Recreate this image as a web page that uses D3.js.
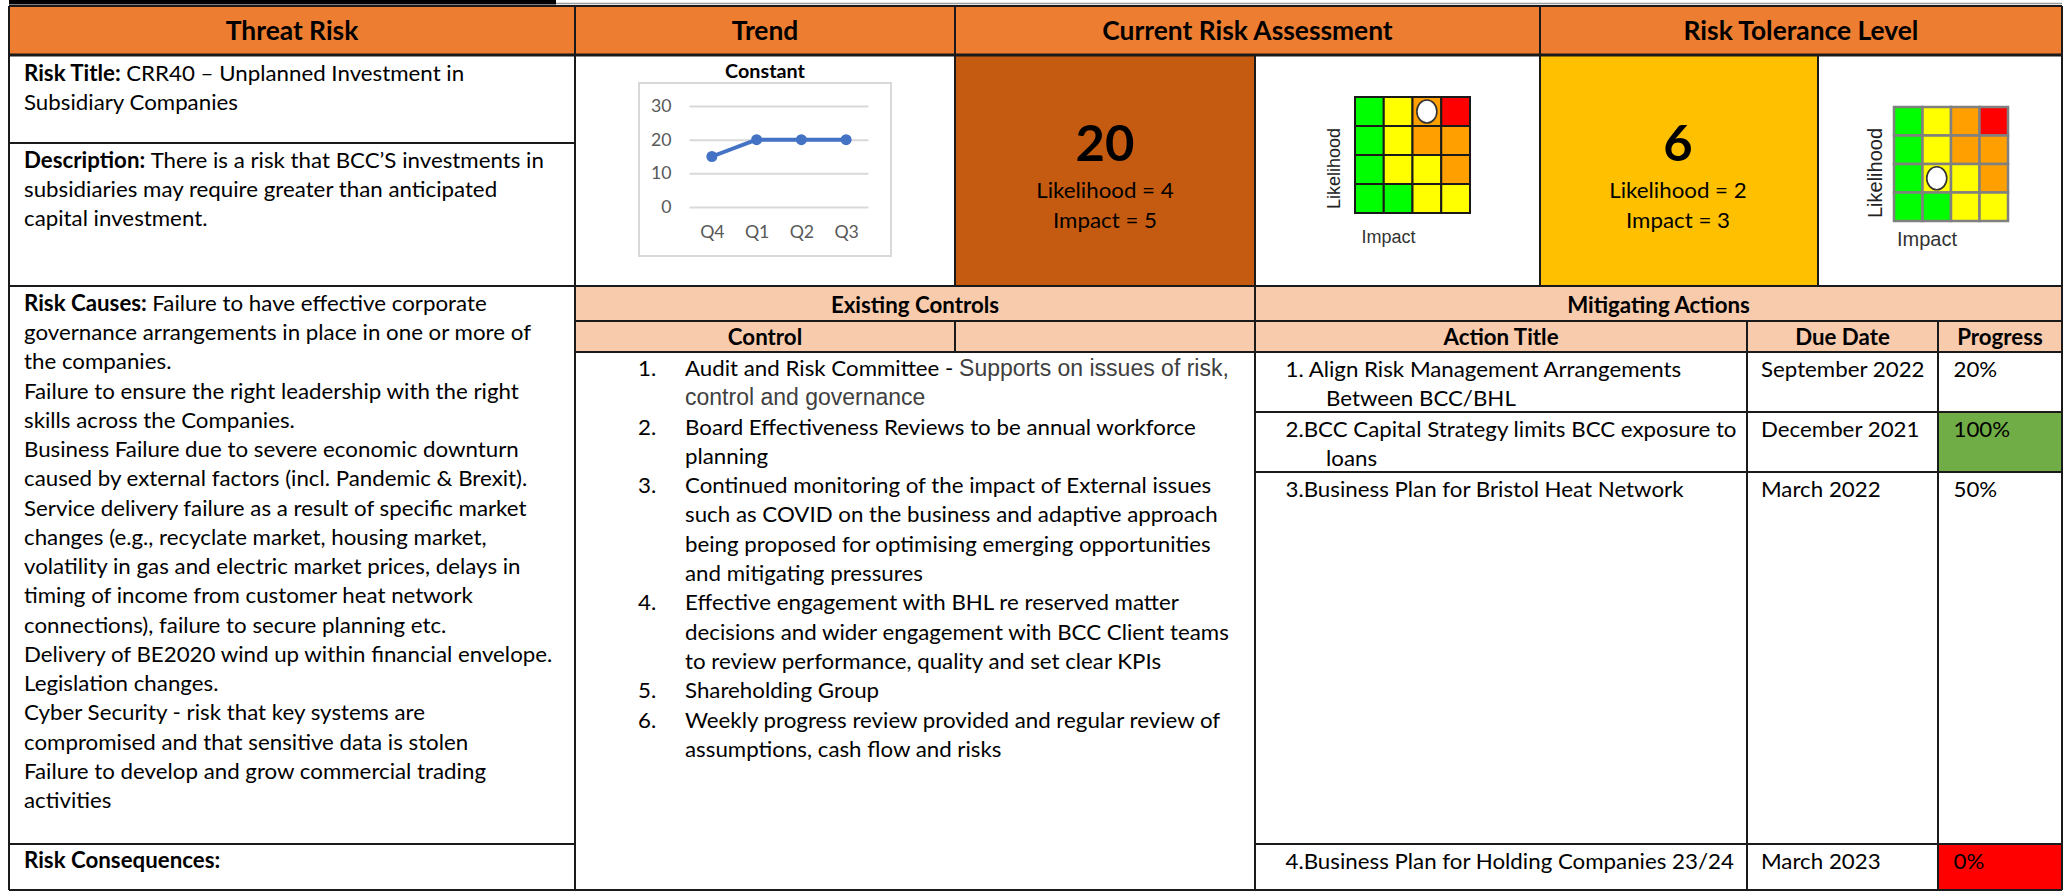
<!DOCTYPE html>
<html><head><meta charset="utf-8">
<script src="https://cdn.jsdelivr.net/npm/d3@7"></script>
<style>body{margin:0;background:#fff;}svg{display:block;}text{white-space:pre;}</style>
</head><body>
<svg id="c" width="2069" height="891"></svg>
<script>
// ---------------- DATA ----------------
const headerTitles = ["Threat Risk", "Trend", "Current Risk Assessment", "Risk Tolerance Level"];
const trendTitle = "Constant";
const trendQuarters = ["Q4", "Q1", "Q2", "Q3"];
const trendValues = [15, 20, 20, 20];
const trendTicks = [0, 10, 20, 30];
const riskTitle = ["CRR40 – Unplanned Investment in", "Subsidiary Companies"];
const riskDescription = ["There is a risk that BCC’S investments in", "subsidiaries may require greater than anticipated", "capital investment."];
const riskCauses = [
  "Failure to have effective corporate",
  "governance arrangements in place in one or more of",
  "the companies.",
  "Failure to ensure the right leadership with the right",
  "skills across the Companies.",
  "Business Failure due to severe economic downturn",
  "caused by external factors (incl. Pandemic & Brexit).",
  "Service delivery failure as a result of specific market",
  "changes (e.g., recyclate market, housing market,",
  "volatility in gas and electric market prices, delays in",
  "timing of income from customer heat network",
  "connections), failure to secure planning etc.",
  "Delivery of BE2020 wind up within financial envelope.",
  "Legislation changes.",
  "Cyber Security - risk that key systems are",
  "compromised and that sensitive data is stolen",
  "Failure to develop and grow commercial trading",
  "activities"
];
const controls = [
  ["Audit and Risk Committee - ", ""],
  ["Board Effectiveness Reviews to be annual workforce", "planning"],
  ["Continued monitoring of the impact of External issues", "such as COVID on the business and adaptive approach", "being proposed for optimising emerging opportunities", "and mitigating pressures"],
  ["Effective engagement with BHL re reserved matter", "decisions and wider engagement with BCC Client teams", "to review performance, quality and set clear KPIs"],
  ["Shareholding Group"],
  ["Weekly progress review provided and regular review of", "assumptions, cash flow and risks"]
];
const control1Note = ["Supports on issues of risk,", "control and governance"];
const actionTitles = [
  ["1. Align Risk Management Arrangements", "Between BCC/BHL"],
  ["2.BCC Capital Strategy limits BCC exposure to", "loans"],
  ["3.Business Plan for Bristol Heat Network"],
  ["4.Business Plan for Holding Companies 23/24"]
];
const actionDue = ["September 2022", "December 2021", "March 2022", "March 2023"];
const actionProgress = [20, 100, 50, 0];
const currentScore = 20, currentLikelihood = 4, currentImpact = 5;
const toleranceScore = 6, toleranceLikelihood = 2, toleranceImpact = 3;
// heat matrix levels (rows top->bottom, columns left->right)
const heatLevels = [[1, 2, 3, 4], [1, 2, 3, 3], [1, 2, 2, 3], [1, 1, 2, 2]];
const currentMarker = [0, 2];   // [row, col]
const toleranceMarker = [2, 1];

// ---------------- LAYOUT ----------------
const svg = d3.select("#c");
const X = {L: 9, c1: 575, c2: 955, c3: 1255, c4: 1540, c5: 1818, R: 2062, d1: 1747, d2: 1938};
const Y = {T: 6, hb: 55, td: 143, r1: 286, h2: 321, h3: 352, a1: 412, a2: 472, a3: 844, B: 890};
const CAL = "Lato, Carlito, sans-serif";
const ARIAL = "'Liberation Sans', Arial, sans-serif";
const BODY = 22, HEAD = 26;

// calibrate horizontal compression so Lato matches the narrower original face
const probe = svg.append("text").attr("font-family", CAL).attr("font-size", BODY);
probe.append("tspan").attr("font-weight", "bold").text("Risk Causes: ");
probe.append("tspan").text(riskCauses[0]);
const k = 463 / probe.node().getComputedTextLength();
probe.remove();

function ctext(parent, x, cy, size, anchor, segs, fill) {
  const t = parent.append("text")
    .attr("transform", `translate(${x},${cy + 0.36 * size}) scale(${k},1)`)
    .attr("font-family", CAL).attr("font-size", size)
    .attr("text-anchor", anchor).attr("fill", fill || "#000");
  segs.forEach(s => t.append("tspan").attr("font-weight", s.b ? "bold" : "normal").text(s.t));
  return t;
}

// top remnant line
svg.append("rect").attr("x", X.L).attr("y", 0).attr("width", 547).attr("height", 4.5).attr("fill", "#000");
svg.append("line").attr("x1", 556).attr("x2", X.R).attr("y1", 3.5).attr("y2", 3.5).attr("stroke", "#9a9a9a").attr("stroke-width", 1.5);

// fills
const fills = svg.append("g");
fills.append("rect").attr("x", X.L).attr("y", Y.T).attr("width", X.R - X.L).attr("height", Y.hb - Y.T).attr("fill", "#ED7D31");
fills.append("rect").attr("x", X.c2).attr("y", Y.hb).attr("width", X.c3 - X.c2).attr("height", Y.r1 - Y.hb).attr("fill", "#C55A11");
fills.append("rect").attr("x", X.c4).attr("y", Y.hb).attr("width", X.c5 - X.c4).attr("height", Y.r1 - Y.hb).attr("fill", "#FFC000");
fills.append("rect").attr("x", X.c1).attr("y", Y.r1).attr("width", X.R - X.c1).attr("height", Y.h3 - Y.r1).attr("fill", "#F8CBAD");

// progress cells
const rowEdges = [Y.h3, Y.a1, Y.a2, Y.a3, Y.B];
const progColor = v => v >= 100 ? "#70AD47" : (v <= 0 ? "#FF0000" : "none");
fills.selectAll("rect.prog").data(actionProgress).join("rect").attr("class", "prog")
  .attr("x", X.d2).attr("width", X.R - X.d2)
  .attr("y", (d, i) => rowEdges[i]).attr("height", (d, i) => rowEdges[i + 1] - rowEdges[i])
  .attr("fill", progColor);

// grid lines
const lines = svg.append("g").attr("stroke", "#1a1a1a").attr("stroke-width", 2);
const H = [[Y.T, X.L, X.R], [Y.td, X.L, X.c1], [Y.r1, X.L, X.R], [Y.h2, X.c1, X.R], [Y.h3, X.c1, X.R],
  [Y.a1, X.c3, X.R], [Y.a2, X.c3, X.R], [Y.a3, X.L, X.c1], [Y.a3, X.c3, X.R], [Y.B, X.L, X.R]];
H.forEach(h => lines.append("line").attr("x1", h[1]).attr("x2", h[2]).attr("y1", h[0]).attr("y2", h[0]));
lines.append("line").attr("x1", X.L).attr("x2", X.R).attr("y1", Y.hb).attr("y2", Y.hb).attr("stroke-width", 3);
const V = [[X.L, Y.T, Y.B], [X.R, Y.T, Y.B], [X.c1, Y.T, Y.B], [X.c2, Y.T, Y.r1], [X.c2, Y.h2, Y.h3],
  [X.c3, Y.hb, Y.B], [X.c4, Y.T, Y.r1], [X.c5, Y.hb, Y.r1], [X.d1, Y.h2, Y.B], [X.d2, Y.h2, Y.B]];
V.forEach(v => lines.append("line").attr("x1", v[0]).attr("x2", v[0]).attr("y1", v[1]).attr("y2", v[2]));

// header titles
const hx = [(X.L + X.c1) / 2, (X.c1 + X.c2) / 2, (X.c2 + X.c4) / 2, (X.c4 + X.R) / 2];
headerTitles.forEach((t, i) => ctext(svg, hx[i], 31, HEAD, "middle", [{t, b: true}]));

// risk title and description
const LH = 29.25;
riskTitle.forEach((t, i) => ctext(svg, 24, 72.7 + i * LH, BODY, "start", i === 0 ? [{t: "Risk Title: ", b: true}, {t}] : [{t}]));
riskDescription.forEach((t, i) => ctext(svg, 24, 160 + i * LH, BODY, "start", i === 0 ? [{t: "Description: ", b: true}, {t}] : [{t}]));
riskCauses.forEach((t, i) => ctext(svg, 24, 303 + i * LH, BODY, "start", i === 0 ? [{t: "Risk Causes: ", b: true}, {t}] : [{t}]));
ctext(svg, 24, 860, BODY, "start", [{t: "Risk Consequences:", b: true}]);

// ---------------- TREND CHART ----------------
const tg = svg.append("g");
tg.append("rect").attr("x", 639).attr("y", 83).attr("width", 252).attr("height", 173)
  .attr("fill", "#fff").attr("stroke", "#D9D9D9").attr("stroke-width", 2);
ctext(tg, 765, 70.5, 19.5, "middle", [{t: trendTitle, b: true}]);
const tx = d3.scalePoint().domain(trendQuarters).range([689.5, 868.5]).padding(0.5);
const ty = d3.scaleLinear().domain([0, 30]).range([207, 106]);
const yAx = tg.append("g").attr("transform", "translate(689.5,0)")
  .call(d3.axisLeft(ty).tickValues(trendTicks).tickSize(-179).tickPadding(18));
yAx.select(".domain").remove();
yAx.selectAll(".tick line").attr("stroke", "#D9D9D9").attr("stroke-width", 2);
yAx.selectAll(".tick text").attr("font-family", CAL).attr("font-size", 17.5).attr("fill", "#595959")
  .attr("x", function () { return +d3.select(this).attr("x") / k; }).attr("transform", `scale(${k},1)`);
const xAx = tg.append("g").attr("transform", "translate(0,207)")
  .call(d3.axisBottom(tx).tickSize(0).tickPadding(19));
xAx.select(".domain").remove();
xAx.selectAll(".tick text").attr("font-family", CAL).attr("font-size", 17.5).attr("fill", "#595959")
  .attr("transform", `scale(${k},1)`);
tg.append("path").datum(trendValues)
  .attr("d", d3.line().x((d, i) => tx(trendQuarters[i])).y(d => ty(d)))
  .attr("fill", "none").attr("stroke", "#4472C4").attr("stroke-width", 4).attr("stroke-linejoin", "round");
tg.selectAll("circle.pt").data(trendValues).join("circle").attr("class", "pt")
  .attr("cx", (d, i) => tx(trendQuarters[i])).attr("cy", d => ty(d)).attr("r", 5.5).attr("fill", "#4472C4");

// ---------------- SCORE CELLS ----------------
function scoreCell(cx, score, lik, imp) {
  ctext(svg, cx, 143, 50, "middle", [{t: String(score), b: true}]);
  ctext(svg, cx, 190, BODY, "middle", [{t: "Likelihood = " + lik}]);
  ctext(svg, cx, 220, BODY, "middle", [{t: "Impact = " + imp}]);
}
scoreCell((X.c2 + X.c3) / 2, currentScore, currentLikelihood, currentImpact);
scoreCell((X.c4 + X.c5) / 2 - 1, toleranceScore, toleranceLikelihood, toleranceImpact);

// ---------------- HEAT MAPS ----------------
const levelColor = d3.scaleOrdinal().domain([1, 2, 3, 4]).range(["#00FF00", "#FFFF00", "#FFA000", "#FF0000"]);
function heatMap(x0, x1, y0, y1, marker, lineColor, lw, labLx, labLy, labIx, labIy, labSize) {
  const g = svg.append("g");
  const cx = d3.scaleBand().domain(d3.range(4)).range([x0, x1]);
  const cy = d3.scaleBand().domain(d3.range(4)).range([y0, y1]);
  const cells = heatLevels.flatMap((row, r) => row.map((v, c) => ({r, c, v})));
  g.selectAll("rect").data(cells).join("rect")
    .attr("x", d => cx(d.c)).attr("y", d => cy(d.r))
    .attr("width", cx.bandwidth()).attr("height", cy.bandwidth())
    .attr("fill", d => levelColor(d.v)).attr("stroke", lineColor).attr("stroke-width", lw);
  g.append("ellipse").attr("cx", cx(marker[1]) + cx.bandwidth() / 2).attr("cy", cy(marker[0]) + cy.bandwidth() / 2)
    .attr("rx", 10).attr("ry", 11.5).attr("fill", "#fff").attr("stroke", "#333").attr("stroke-width", 1.6);
  g.append("text").attr("transform", `translate(${labLx},${labLy}) rotate(-90)`)
    .attr("text-anchor", "middle").attr("dominant-baseline", "central")
    .attr("font-family", ARIAL).attr("font-size", labSize).attr("fill", "#222").text("Likelihood");
  g.append("text").attr("x", labIx).attr("y", labIy).attr("text-anchor", "middle").attr("dominant-baseline", "central")
    .attr("font-family", ARIAL).attr("font-size", labSize).attr("fill", "#333").text("Impact");
}
heatMap(1355, 1470, 97, 213, currentMarker, "#1a1a1a", 2, 1334, 168.5, 1388.5, 237, 18);
heatMap(1894, 2008, 107, 221, toleranceMarker, "#808080", 2.5, 1875, 173, 1927, 239, 20);

// ---------------- CONTROLS / ACTIONS HEADERS ----------------
ctext(svg, (X.c1 + X.c3) / 2, 305, BODY, "middle", [{t: "Existing Controls", b: true}]);
ctext(svg, (X.c3 + X.R) / 2, 305, BODY, "middle", [{t: "Mitigating Actions", b: true}]);
ctext(svg, (X.c1 + X.c2) / 2, 337, BODY, "middle", [{t: "Control", b: true}]);
ctext(svg, (X.c3 + X.d1) / 2, 337, BODY, "middle", [{t: "Action Title", b: true}]);
ctext(svg, (X.d1 + X.d2) / 2, 337, BODY, "middle", [{t: "Due Date", b: true}]);
ctext(svg, (X.d2 + X.R) / 2, 337, BODY, "middle", [{t: "Progress", b: true}]);

// controls list
let li = 0;
controls.forEach((item, i) => {
  ctext(svg, 638, 368 + li * 29.3, BODY, "start", [{t: (i + 1) + "."}]);
  item.forEach((t, j) => {
    const cy = 368 + li * 29.3;
    const el = ctext(svg, 685, cy, BODY, "start", [{t}]);
    if (i === 0) {
      const w = j === 0 ? el.node().getComputedTextLength() * k : 0;
      svg.append("text").attr("x", 685 + w).attr("y", cy + 8)
        .attr("font-family", ARIAL).attr("font-size", 23).attr("fill", "#404040").text(control1Note[j]);
    }
    li++;
  });
});

// actions
const actionTop = [369, 429, 489, 861];
actionTitles.forEach((lines2, i) => {
  lines2.forEach((t, j) => ctext(svg, j === 0 ? 1285.5 : 1326, actionTop[i] + j * 29.3, BODY, "start", [{t}]));
  ctext(svg, 1761, actionTop[i], BODY, "start", [{t: actionDue[i]}]);
  ctext(svg, 1953.5, actionTop[i], BODY, "start", [{t: actionProgress[i] + "%"}]);
});
</script>
</body></html>
